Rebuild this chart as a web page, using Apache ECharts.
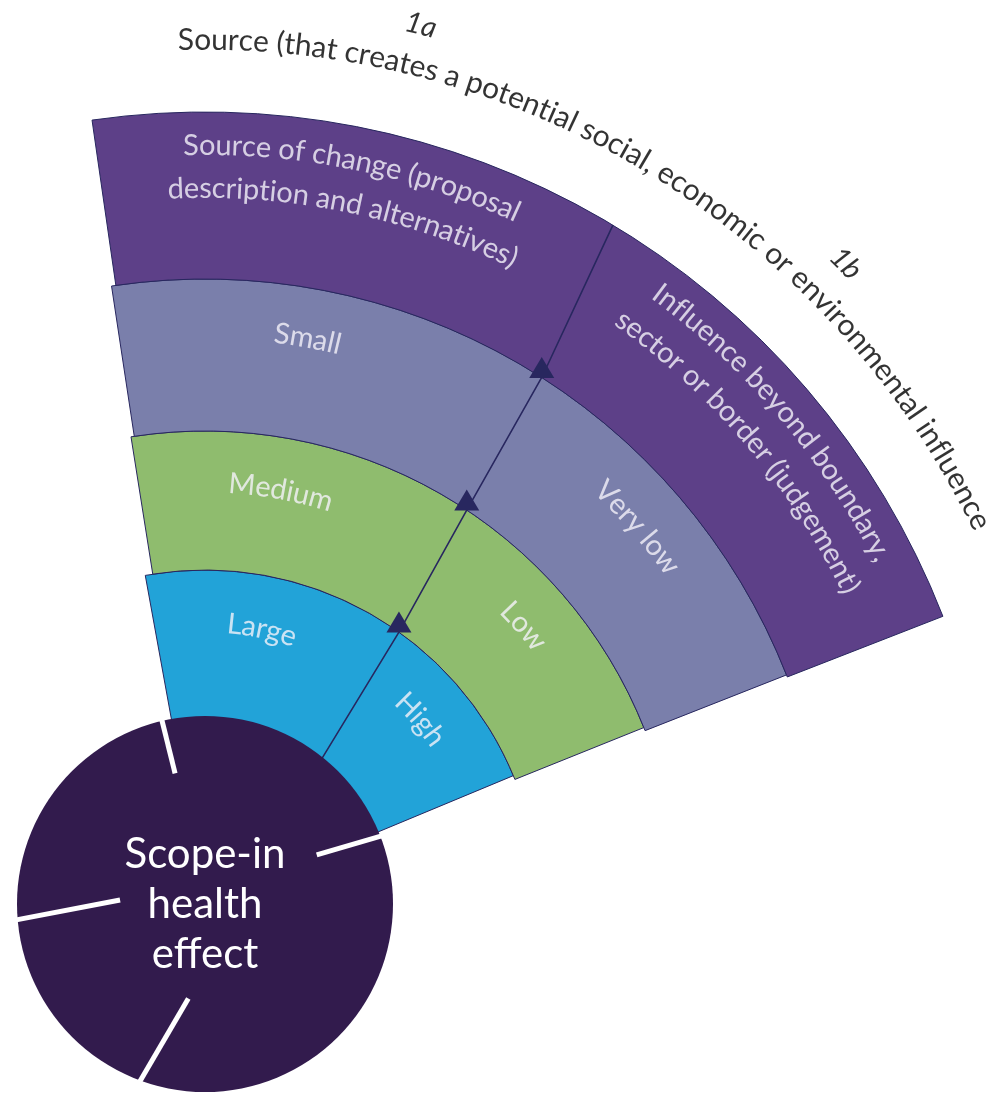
<!DOCTYPE html>
<html>
<head>
<meta charset="utf-8">
<script src="https://cdn.jsdelivr.net/npm/echarts@6/dist/echarts.min.js"></script>
<style>
  html, body { margin: 0; padding: 0; background: #fff; }
  #main { width: 992px; height: 1094px; }
</style>
</head>
<body>
<div id="main"></div>
<script>
// ---- 数据 ----
// 四个圆环，从内到外
const rings = ['Large / High', 'Medium / Low', 'Small / Very low', 'Source / Influence']
// 每个环左边缘、右边缘的角度（度，逆时针从正东算起）
const leftAngles = [100.3, 99.0, 98.6, 98.2]
const rightAngles = [22.6, 21.9, 21.5, 21.3]
// 左右两块的文字
const leftLabels = ['Large', 'Medium', 'Small', 'Source of change (proposal\ndescription and alternatives)']
const rightLabels = ['High', 'Low', 'Very low', 'Influence beyond boundary,\nsector or border (judgement)']
// 分隔线经过的角度（在各环边界上）
const dividerAngles = [50.9, 54.5, 56.4, 57.4, 59.0]
const titleText = 'Source (that creates a potential social, economic or environmental influence'
const tagLabels = ['1a', '1b']
const centerLabel = 'Scope-in\nhealth\neffect'

// ---- 布局 ----
const center = [205, 904]
const circleR = 188
const ringEdges = [160, 334, 473, 625, 792]
const dividerRadii = [179, 334, 473, 625, 792]
const ringColors = ['#22a3d8', '#8fbc6e', '#7a7fab', '#5d4088']
const navy = '#28275f'
const leftPos = [[281, 78.3], [421, 79.6], [575, 79.7], [737, 78.6]]
const rightPos = [[284, 40.6], [423, 41.1], [575, 41.05], [740, 40.3]]
const titlePos = [864, 58.8]
const tagPos = [[905, 76.2], [906, 45.0]]
// 圆里的白色缝隙 [内半径, 角度] -> [外半径, 角度]
const gaps = [
  [[134, 102.9], [192, 103.2]],
  [[122, 23.7], [192, 21.0]],
  [[85, 177.3], [192, 184.9]],
  [[96, 260.0], [192, 249.7]]
]

const myChart = echarts.init(document.getElementById('main'))

// 沿圆弧逐字排列文字
const ctx = document.createElement('canvas').getContext('2d')
function arcChars(text, r, ang, size, lh, style) {
  ctx.font = (style || 'normal') + ' ' + size + 'px Lato'
  const lines = text.split('\n')
  const items = []
  lines.forEach((ln, i) => {
    const rr = r + ((lines.length - 1) / 2 - i) * lh
    const chars = Array.from(ln)
    const widths = chars.map(c => ctx.measureText(c).width)
    const total = widths.reduce((a, b) => a + b, 0)
    let acc = 0
    chars.forEach((ch, k) => {
      const a = ang + (total / 2 - acc - widths[k] / 2) / rr * 180 / Math.PI
      acc += widths[k]
      if (ch === ' ') return
      items.push({ name: ch, value: [rr, a], label: { rotate: a - 90 } })
    })
  })
  return items
}

function textSeries(items, size, color, style) {
  return {
    type: 'scatter',
    coordinateSystem: 'polar',
    polarIndex: 4,
    silent: true,
    z: 7,
    symbolSize: 1,
    itemStyle: { color: 'rgba(0,0,0,0)' },
    label: {
      show: true,
      position: 'inside',
      formatter: p => p.name,
      color: color,
      fontFamily: 'Lato',
      fontSize: size,
      fontStyle: style || 'normal',
      align: 'center',
      verticalAlign: 'middle'
    },
    data: items
  }
}

const noAxis = {
  axisLine: { show: false },
  axisTick: { show: false },
  axisLabel: { show: false },
  splitLine: { show: false }
}

const polar = []
const radiusAxis = []
const angleAxis = []
const series = []

rings.forEach((name, i) => {
  polar.push({ center: center, radius: [ringEdges[i], ringEdges[i + 1]] })
  radiusAxis.push(Object.assign({ polarIndex: i, type: 'category', data: [name] }, noAxis))
  angleAxis.push(Object.assign({
    polarIndex: i, type: 'value', min: 0, max: 360,
    startAngle: leftAngles[i], clockwise: true
  }, noAxis))
  series.push({
    type: 'bar',
    coordinateSystem: 'polar',
    polarIndex: i,
    barCategoryGap: '0%',
    silent: true,
    z: 1,
    itemStyle: { color: ringColors[i], borderColor: navy, borderWidth: 1 },
    data: [leftAngles[i] - rightAngles[i]]
  })
})

// 文字、分隔线、三角形用的坐标系（半径单位为像素）
polar.push({ center: center, radius: [0, 950] })
radiusAxis.push(Object.assign({ polarIndex: 4, type: 'value', min: 0, max: 950 }, noAxis))
angleAxis.push(Object.assign({
  polarIndex: 4, type: 'value', min: 0, max: 360, startAngle: 0, clockwise: false
}, noAxis))

// 分隔线
series.push({
  type: 'line',
  coordinateSystem: 'polar',
  polarIndex: 4,
  silent: true,
  z: 3,
  symbol: 'none',
  lineStyle: { color: navy, width: 1.6 },
  data: dividerAngles.map((a, i) => [dividerRadii[i], a])
})

// 三角形
series.push({
  type: 'scatter',
  coordinateSystem: 'polar',
  polarIndex: 4,
  silent: true,
  z: 4,
  symbol: 'triangle',
  symbolSize: [25, 21],
  symbolOffset: [0, -10],
  itemStyle: { color: navy, opacity: 1 },
  data: dividerAngles.slice(1, 4).map((a, i) => [dividerRadii[i + 1], a])
})

// 中间的圆
series.push({
  type: 'pie',
  center: center,
  radius: [0, circleR],
  silent: true,
  z: 5,
  itemStyle: { color: '#321b4d' },
  label: {
    position: 'center',
    formatter: '{b}',
    color: '#fff',
    fontFamily: 'Lato',
    fontSize: 42,
    lineHeight: 50
  },
  labelLine: { show: false },
  data: [{ value: 1, name: centerLabel }]
})

// 白色缝隙
gaps.forEach(g => {
  series.push({
    type: 'line',
    coordinateSystem: 'polar',
    polarIndex: 4,
    silent: true,
    z: 6,
    symbol: 'none',
    lineStyle: { color: '#fff', width: 5 },
    data: g
  })
})

// 各块文字
leftLabels.forEach((t, i) => {
  series.push(textSeries(arcChars(t, leftPos[i][0], leftPos[i][1], 29, 43), 29, '#f5f3fa'))
})
rightLabels.forEach((t, i) => {
  series.push(textSeries(arcChars(t, rightPos[i][0], rightPos[i][1], 29, 43), 29, '#f5f3fa'))
})
series.push(textSeries(arcChars(titleText, titlePos[0], titlePos[1], 30, 0), 30, '#000'))
tagLabels.forEach((t, i) => {
  series.push(textSeries(arcChars(t, tagPos[i][0], tagPos[i][1], 29, 0, 'italic'), 29, '#000', 'italic'))
})

myChart.setOption({
  animation: false,
  backgroundColor: '#fff',
  polar: polar,
  radiusAxis: radiusAxis,
  angleAxis: angleAxis,
  series: series
})
</script>
</body>
</html>
